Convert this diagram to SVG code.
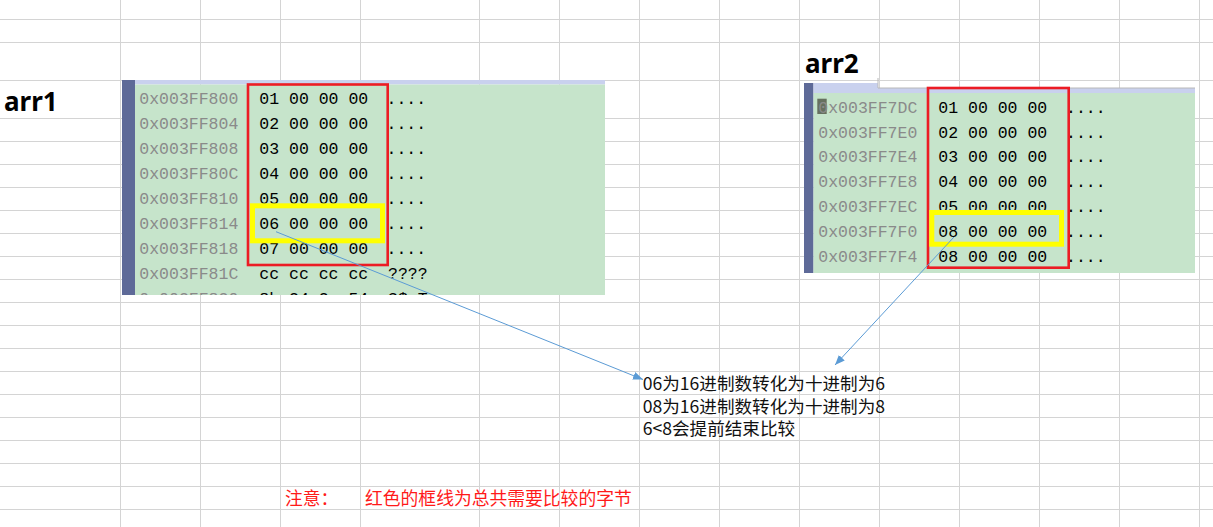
<svg xmlns="http://www.w3.org/2000/svg" width="1213" height="527" viewBox="0 0 1213 527">
<style>
.grid line{stroke:#d4d4d4;stroke-width:1}
.addr{font-family:"Liberation Mono",monospace;font-size:16.5px;fill:#8a8a8a}
.hex{font-family:"Liberation Mono",monospace;font-size:16.5px;fill:#000}
.lbl{font-family:"Noto Sans","Liberation Sans",sans-serif;font-weight:bold;font-size:26px;fill:#000}
.cn{font-family:"Noto Sans CJK SC","Noto Sans",sans-serif;font-size:17.6px;fill:#111}
.note{font-family:"Noto Sans CJK SC","Noto Sans",sans-serif;font-size:17.8px;fill:#ff1a1a}
.bar{fill:#5e6a98}
.band{fill:#c9d1ee}
.green{fill:#c6e4cb}
.redbox{fill:none;stroke:#ec1c24;stroke-width:2.6}
.yelbox{fill:none;stroke:#ffff00;stroke-width:5}
.conn{stroke:#5b9bd5;stroke-width:1;fill:none}
</style>
<defs>
<marker id="arrow" viewBox="0 0 10 8" refX="10" refY="4" markerWidth="10" markerHeight="8" markerUnits="userSpaceOnUse" orient="auto">
<path d="M0,0 L10,4 L0,8 Z" fill="#5b9bd5"/>
</marker>
<clipPath id="clip1"><rect x="135" y="84" width="470" height="211"/></clipPath>
</defs>
<rect x="0" y="0" width="1213" height="527" fill="#ffffff"/>
<g class="grid" id="grid">
<line x1="120.5" y1="0" x2="120.5" y2="527"/>
<line x1="200.5" y1="0" x2="200.5" y2="527"/>
<line x1="280.5" y1="0" x2="280.5" y2="527"/>
<line x1="360.5" y1="0" x2="360.5" y2="527"/>
<line x1="479.5" y1="0" x2="479.5" y2="527"/>
<line x1="559.5" y1="0" x2="559.5" y2="527"/>
<line x1="639.5" y1="0" x2="639.5" y2="527"/>
<line x1="719.5" y1="0" x2="719.5" y2="527"/>
<line x1="799.5" y1="0" x2="799.5" y2="527"/>
<line x1="879.5" y1="0" x2="879.5" y2="527"/>
<line x1="959.5" y1="0" x2="959.5" y2="527"/>
<line x1="1039.5" y1="0" x2="1039.5" y2="527"/>
<line x1="1119.5" y1="0" x2="1119.5" y2="527"/>
<line x1="1199.5" y1="0" x2="1199.5" y2="527"/>
<line x1="0" y1="19.5" x2="1213" y2="19.5"/>
<line x1="0" y1="42.5" x2="1213" y2="42.5"/>
<line x1="0" y1="80.5" x2="1213" y2="80.5"/>
<line x1="0" y1="118.5" x2="1213" y2="118.5"/>
<line x1="0" y1="141.5" x2="1213" y2="141.5"/>
<line x1="0" y1="164.5" x2="1213" y2="164.5"/>
<line x1="0" y1="187.5" x2="1213" y2="187.5"/>
<line x1="0" y1="210.5" x2="1213" y2="210.5"/>
<line x1="0" y1="233.5" x2="1213" y2="233.5"/>
<line x1="0" y1="256.5" x2="1213" y2="256.5"/>
<line x1="0" y1="279.5" x2="1213" y2="279.5"/>
<line x1="0" y1="302.5" x2="1213" y2="302.5"/>
<line x1="0" y1="325.5" x2="1213" y2="325.5"/>
<line x1="0" y1="348.5" x2="1213" y2="348.5"/>
<line x1="0" y1="371.5" x2="1213" y2="371.5"/>
<line x1="0" y1="394.5" x2="1213" y2="394.5"/>
<line x1="0" y1="417.5" x2="1213" y2="417.5"/>
<line x1="0" y1="440.5" x2="1213" y2="440.5"/>
<line x1="0" y1="463.5" x2="1213" y2="463.5"/>
<line x1="0" y1="486.5" x2="1213" y2="486.5"/>
<line x1="0" y1="509.5" x2="1213" y2="509.5"/>
</g>
<g id="label-arr1"><text class="lbl" x="4" y="111">arr1</text></g>
<g id="label-arr2"><text class="lbl" x="805" y="73">arr2</text></g>
<g id="arr1">
<rect class="bar" x="122" y="80" width="13" height="215"/>
<rect class="band" x="135" y="80" width="470" height="4.5"/>
<rect class="green" x="135" y="84.5" width="470" height="210.5"/>
<g clip-path="url(#clip1)">
<text class="addr" x="139.3" y="103.5">0x003FF800</text><text class="hex" x="259.3" y="103.5">01 00 00 00</text><text class="hex" x="386.5" y="103.5">....</text>
<text class="addr" x="139.3" y="128.5">0x003FF804</text><text class="hex" x="259.3" y="128.5">02 00 00 00</text><text class="hex" x="386.5" y="128.5">....</text>
<text class="addr" x="139.3" y="153.5">0x003FF808</text><text class="hex" x="259.3" y="153.5">03 00 00 00</text><text class="hex" x="386.5" y="153.5">....</text>
<text class="addr" x="139.3" y="178.5">0x003FF80C</text><text class="hex" x="259.3" y="178.5">04 00 00 00</text><text class="hex" x="386.5" y="178.5">....</text>
<text class="addr" x="139.3" y="203.5">0x003FF810</text><text class="hex" x="259.3" y="203.5">05 00 00 00</text><text class="hex" x="386.5" y="203.5">....</text>
<text class="addr" x="139.3" y="228.5">0x003FF814</text><text class="hex" x="259.3" y="228.5">06 00 00 00</text><text class="hex" x="386.5" y="228.5">....</text>
<text class="addr" x="139.3" y="253.5">0x003FF818</text><text class="hex" x="259.3" y="253.5">07 00 00 00</text><text class="hex" x="386.5" y="253.5">....</text>
<text class="addr" x="139.3" y="278.5">0x003FF81C</text><text class="hex" x="259.3" y="278.5">cc cc cc cc</text><text class="hex" x="388" y="278.5">????</text>
<text class="addr" x="139.3" y="303.5">0x003FF820</text><text class="hex" x="259.3" y="303.5">8b 24 2e 54</text><text class="hex" x="388" y="303.5">?$.T</text>
</g>
<rect class="redbox" x="248" y="84.5" width="139.7" height="180.5"/>
<rect class="yelbox" x="252.5" y="205.8" width="130" height="35"/>
</g>
<g id="arr2">
<rect class="bar" x="804" y="83" width="9.5" height="190"/>
<polygon class="band" points="813.5,83 878,83 878,88 1195,88 1195,93 813.5,93"/>
<polyline points="878,78 878,88 1195,88" fill="none" stroke="#b8b8b8" stroke-width="1"/>
<rect class="green" x="813.5" y="93" width="381.5" height="180"/>
<rect x="817.3" y="98.7" width="9.4" height="15.3" fill="#66705f"/>
<text class="addr" x="818.3" y="112.7">0x003FF7DC</text><text class="hex" x="938.3" y="112.7">01 00 00 00</text><text class="hex" x="1066" y="112.7">....</text>
<text class="addr" x="818.3" y="137.5">0x003FF7E0</text><text class="hex" x="938.3" y="137.5">02 00 00 00</text><text class="hex" x="1066" y="137.5">....</text>
<text class="addr" x="818.3" y="162.4">0x003FF7E4</text><text class="hex" x="938.3" y="162.4">03 00 00 00</text><text class="hex" x="1066" y="162.4">....</text>
<text class="addr" x="818.3" y="187.2">0x003FF7E8</text><text class="hex" x="938.3" y="187.2">04 00 00 00</text><text class="hex" x="1066" y="187.2">....</text>
<text class="addr" x="818.3" y="212.1">0x003FF7EC</text><text class="hex" x="938.3" y="212.1">05 00 00 00</text><text class="hex" x="1066" y="212.1">....</text>
<text class="addr" x="818.3" y="236.9">0x003FF7F0</text><text class="hex" x="938.3" y="236.9">08 00 00 00</text><text class="hex" x="1066" y="236.9">....</text>
<text class="addr" x="818.3" y="261.8">0x003FF7F4</text><text class="hex" x="938.3" y="261.8">08 00 00 00</text><text class="hex" x="1066" y="261.8">....</text>
<rect class="redbox" x="928" y="88" width="140.7" height="179.7"/>
<rect class="yelbox" x="931.8" y="212.5" width="129.7" height="31.7"/>
</g>
<g id="connectors">
<line class="conn" x1="276" y1="231.7" x2="643" y2="379.5" marker-end="url(#arrow)"/>
<line class="conn" x1="954" y1="237" x2="835" y2="365" marker-end="url(#arrow)"/>
</g>
<g id="explanation">
<text class="cn" x="642.7" y="390">06为16进制数转化为十进制为6</text>
<text class="cn" x="642.7" y="412.5">08为16进制数转化为十进制为8</text>
<text class="cn" x="642.7" y="435">6&lt;8会提前结束比较</text>
</g>
<g id="note">
<text class="note" x="285" y="505">注意：</text>
<text class="note" x="365" y="505">红色的框线为总共需要比较的字节</text>
</g>
</svg>
